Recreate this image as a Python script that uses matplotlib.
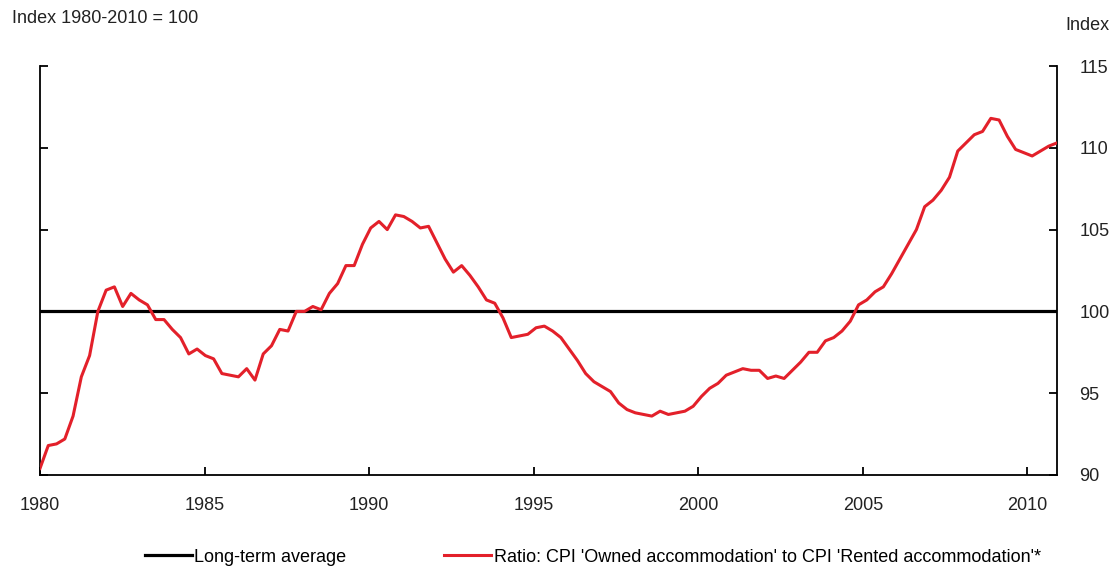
import matplotlib.pyplot as plt
import numpy as np

plt.rcParams['font.family'] = ['Liberation Sans', 'DejaVu Sans']

# quarterly ratio values, 1980Q1 - 2010Q4 (index 1980-2010 = 100)
ratio = [
    90.4, 91.8, 91.9, 92.2,      # 1980
    93.6, 96.0, 97.3, 100.0,     # 1981
    101.3, 101.5, 100.3, 101.1,  # 1982
    100.7, 100.4, 99.5, 99.5,    # 1983
    98.9, 98.4, 97.4, 97.7,      # 1984
    97.3, 97.1, 96.2, 96.1,      # 1985
    96.0, 96.5, 95.8, 97.4,      # 1986
    97.9, 98.9, 98.8, 100.0,     # 1987
    100.0, 100.3, 100.1, 101.1,  # 1988
    101.7, 102.8, 102.8, 104.1,  # 1989
    105.1, 105.5, 105.0, 105.9,  # 1990
    105.8, 105.5, 105.1, 105.2,  # 1991
    104.2, 103.2, 102.4, 102.8,  # 1992
    102.2, 101.5, 100.7, 100.5,  # 1993
    99.6, 98.4, 98.5, 98.6,      # 1994
    99.0, 99.1, 98.8, 98.4,      # 1995
    97.7, 97.0, 96.2, 95.7,      # 1996
    95.4, 95.1, 94.4, 94.0,      # 1997
    93.8, 93.7, 93.6, 93.9,      # 1998
    93.7, 93.8, 93.9, 94.2,      # 1999
    94.8, 95.3, 95.6, 96.1,      # 2000
    96.3, 96.5, 96.4, 96.4,      # 2001
    95.9, 96.05, 95.9, 96.4,     # 2002
    96.9, 97.5, 97.5, 98.2,      # 2003
    98.4, 98.8, 99.4, 100.4,     # 2004
    100.7, 101.2, 101.5, 102.3,  # 2005
    103.2, 104.1, 105.0, 106.4,  # 2006
    106.8, 107.4, 108.2, 109.8,  # 2007
    110.3, 110.8, 111.0, 111.8,  # 2008
    111.7, 110.7, 109.9, 109.7,  # 2009
    109.5, 109.8, 110.1, 110.3,  # 2010
]
long_term_average = 100
x_ticks = [1980, 1985, 1990, 1995, 2000, 2005, 2010]
y_ticks = [90, 95, 100, 105, 110, 115]

# series runs from the left spine (1980) to the right spine (~2010.9)
x_start, x_end = 1980, 2010.9
quarters = np.linspace(x_start, x_end, len(ratio))

fig = plt.figure(figsize=(11.14, 5.72), dpi=100)
ax = fig.add_axes([0.0359, 0.1696, 0.9129, 0.715])

avg_line = ax.axhline(long_term_average, color='black', lw=2.3, zorder=2,
                      label='Long-term average')
ratio_line, = ax.plot(quarters, ratio, color='#e3202a', lw=2.2, zorder=3,
                      label="Ratio: CPI 'Owned accommodation' to CPI 'Rented accommodation'*")

ax.set_xlim(x_start, x_end)
ax.set_ylim(90, 115)
ax.set_xticks(x_ticks)
ax.set_yticks(y_ticks)

ax.spines['top'].set_visible(False)
for s in ['left', 'right', 'bottom']:
    ax.spines[s].set_linewidth(1.3)

ax.tick_params(axis='x', direction='in', length=6, width=1.3, pad=16,
               labelsize=13, labelcolor='#222222')
ax.tick_params(axis='y', direction='in', length=6, width=1.3, pad=16,
               left=True, right=True, labelleft=False, labelright=True,
               labelsize=13, labelcolor='#222222')

fig.text(0.011, 0.968, 'Index 1980-2010 = 100', fontsize=13, color='#222222',
         ha='left', va='center')
fig.text(0.956, 0.956, 'Index', fontsize=13, color='#222222',
         ha='left', va='center')

fig.legend(handles=[avg_line, ratio_line], loc='center', ncol=2,
           bbox_to_anchor=(0.532, 0.026), frameon=False, fontsize=13,
           handlelength=2.6, handletextpad=0.15, columnspacing=5.4)

fig.savefig('out.png', dpi=100)
